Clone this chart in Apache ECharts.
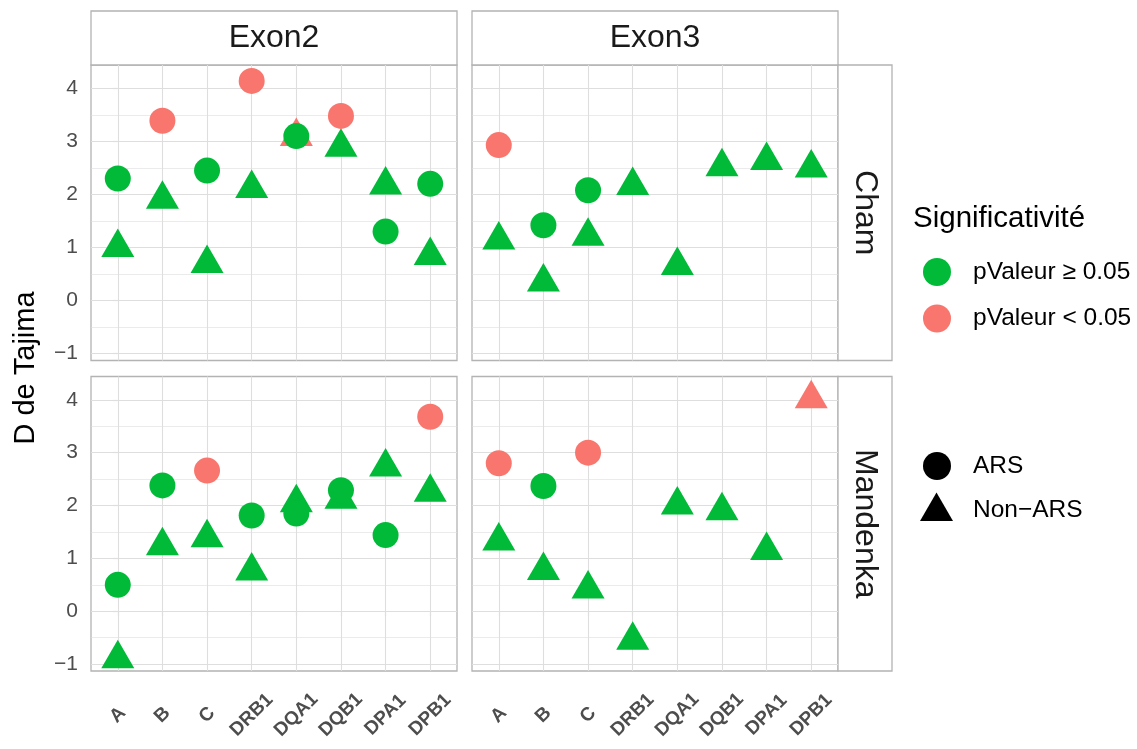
<!DOCTYPE html>
<html>
<head>
<meta charset="utf-8">
<script src="https://cdn.jsdelivr.net/npm/echarts@6/dist/echarts.min.js"></script>
<style>
  html, body { margin: 0; padding: 0; background: #ffffff; }
  #chart { width: 1137px; height: 749px; }
</style>
</head>
<body>
<div id="chart"></div>
<script>
// Genes on the x axis, facet labels and y ticks
const genes = ['A', 'B', 'C', 'DRB1', 'DQA1', 'DQB1', 'DPA1', 'DPB1'];
const exons = ['Exon2', 'Exon3'];
const populations = ['Cham', 'Mandenka'];
const yTicks = [-1, 0, 1, 2, 3, 4];
const yMinorTicks = [-0.5, 0.5, 1.5, 2.5, 3.5];

// Tajima's D per gene (null = no value); *Sig = 1 when pValeur < 0.05
const chamExon2Ars        = [2.30, 3.39, 2.45, 4.14, 3.10, 3.48, 1.30, 2.20];
const chamExon2ArsSig     = [0, 1, 0, 1, 0, 1, 0, 0];
const chamExon2NonArs     = [1.00, 1.91, 0.70, 2.11, 3.09, 2.89, 2.18, 0.85];
const chamExon2NonArsSig  = [0, 0, 0, 0, 1, 0, 0, 0];

const chamExon3Ars        = [2.93, 1.42, 2.08, null, null, null, null, null];
const chamExon3ArsSig     = [1, 0, 0, 0, 0, 0, 0, 0];
const chamExon3NonArs     = [1.14, 0.35, 1.21, 2.17, 0.66, 2.52, 2.64, 2.50];
const chamExon3NonArsSig  = [0, 0, 0, 0, 0, 0, 0, 0];

const mandExon2Ars        = [0.50, 2.38, 2.66, 1.81, 1.85, 2.29, 1.44, 3.68];
const mandExon2ArsSig     = [0, 0, 1, 0, 0, 0, 0, 1];
const mandExon2NonArs     = [-0.90, 1.24, 1.39, 0.76, 2.05, 2.12, 2.73, 2.25];
const mandExon2NonArsSig  = [0, 0, 0, 0, 0, 0, 0, 0];

const mandExon3Ars        = [2.80, 2.37, 3.00, null, null, null, null, null];
const mandExon3ArsSig     = [1, 0, 1, 0, 0, 0, 0, 0];
const mandExon3NonArs     = [1.33, 0.77, 0.42, -0.55, 2.01, 1.90, 1.15, 4.02];
const mandExon3NonArsSig  = [0, 0, 0, 0, 0, 0, 0, 1];

// Facet panels in reading order: row = population, column = exon
const panels = [
  { row: 0, col: 0, ars: chamExon2Ars, arsSig: chamExon2ArsSig, non: chamExon2NonArs, nonSig: chamExon2NonArsSig },
  { row: 0, col: 1, ars: chamExon3Ars, arsSig: chamExon3ArsSig, non: chamExon3NonArs, nonSig: chamExon3NonArsSig },
  { row: 1, col: 0, ars: mandExon2Ars, arsSig: mandExon2ArsSig, non: mandExon2NonArs, nonSig: mandExon2NonArsSig },
  { row: 1, col: 1, ars: mandExon3Ars, arsSig: mandExon3ArsSig, non: mandExon3NonArs, nonSig: mandExon3NonArsSig }
];

const GREEN = '#00BA38';
const RED = '#F8766D';
const BORDER = '#B3B3B3';
const GRIDLINE = '#DEDEDE';
const AXIS_TEXT = '#4D4D4D';
const FONT = '"Liberation Sans", Arial, Helvetica, sans-serif';

const Y_MIN = -1.13, Y_MAX = 4.44;
const X_MIN = -0.6, X_MAX = 7.6;

const colLeft = [91, 472];
const rowTop = [65, 376.5];
const panelW = 366;
const rowH = [295.5, 294.5];

const CIRCLE = 26;
const TRI_W = 33, TRI_H = 28.5;

const geneIdx = genes.map((g, i) => i);

const grids = [], xAxes = [], yAxes = [], series = [];

panels.forEach((p, k) => {
  grids.push({
    left: colLeft[p.col], top: rowTop[p.row], width: panelW, height: rowH[p.row],
    show: true, borderColor: BORDER, borderWidth: 1.3, backgroundColor: '#ffffff',
    containLabel: false
  });
  xAxes.push({
    type: 'value', gridIndex: k, min: X_MIN, max: X_MAX,
    axisLine: { show: false },
    splitLine: { show: false },
    axisTick: { show: p.row === 1, customValues: geneIdx, length: 5, lineStyle: { color: BORDER, width: 1.1 } },
    axisLabel: {
      show: p.row === 1, customValues: geneIdx, rotate: 45, margin: 44,
      align: 'center', verticalAlign: 'middle',
      formatter: v => genes[Math.round(v)],
      color: AXIS_TEXT, fontFamily: FONT, fontSize: 19, fontWeight: 'bold'
    }
  });
  yAxes.push({
    type: 'value', gridIndex: k, min: Y_MIN, max: Y_MAX,
    axisLine: { show: false },
    splitLine: { show: false },
    axisTick: { show: p.col === 0, customValues: yTicks, length: 5, lineStyle: { color: BORDER, width: 1.1 } },
    axisLabel: {
      show: p.col === 0, customValues: yTicks, margin: 13,
      formatter: v => String(v).replace('-', '\u2212'),
      color: AXIS_TEXT, fontFamily: FONT, fontSize: 21
    }
  });

  // panel grid lines (minor first, then major), kept under the points
  const lines = [];
  yMinorTicks.forEach(v => lines.push({ yAxis: v, lineStyle: { color: GRIDLINE, width: 0.6, type: 'solid' } }));
  yTicks.forEach(v => lines.push({ yAxis: v, lineStyle: { color: GRIDLINE, width: 1.1, type: 'solid' } }));
  geneIdx.forEach(v => lines.push({ xAxis: v, lineStyle: { color: GRIDLINE, width: 1.1, type: 'solid' } }));
  series.push({
    type: 'scatter', xAxisIndex: k, yAxisIndex: k, data: [], silent: true, z: 1,
    markLine: { silent: true, z: 1, symbol: ['none', 'none'], label: { show: false }, animation: false, data: lines }
  });

  // Non-ARS (triangles) drawn below ARS (circles)
  const triData = [];
  p.non.forEach((v, i) => {
    if (v === null) return;
    triData.push({ value: [i, v], itemStyle: { color: p.nonSig[i] ? RED : GREEN, opacity: 1 } });
  });
  series.push({
    type: 'scatter', xAxisIndex: k, yAxisIndex: k, z: 6,
    symbol: 'triangle', symbolSize: [TRI_W, TRI_H], symbolOffset: [0, -TRI_H / 6],
    itemStyle: { opacity: 1 },
    data: triData, animation: false
  });
  const cirData = [];
  p.ars.forEach((v, i) => {
    if (v === null) return;
    cirData.push({ value: [i, v], itemStyle: { color: p.arsSig[i] ? RED : GREEN, opacity: 1 } });
  });
  series.push({
    type: 'scatter', xAxisIndex: k, yAxisIndex: k, z: 7,
    symbol: 'circle', symbolSize: CIRCLE,
    itemStyle: { opacity: 1 },
    data: cirData, animation: false
  });
});

// facet strips, axis title and legends
const graphics = [];
const stripTop = 11, stripRight = 892;
const centered = { align: 'center', verticalAlign: 'middle', textAlign: 'center', textVerticalAlign: 'middle' };
const leftMid = { align: 'left', verticalAlign: 'middle', textAlign: 'left', textVerticalAlign: 'middle' };
exons.forEach((ex, c) => {
  graphics.push({ type: 'rect', shape: { x: colLeft[c], y: stripTop, width: panelW, height: rowTop[0] - stripTop },
    style: { fill: '#ffffff', stroke: BORDER, lineWidth: 1.3 } });
  graphics.push({ type: 'text', x: colLeft[c] + panelW / 2, y: (stripTop + rowTop[0]) / 2,
    style: Object.assign({ text: ex, font: '32px ' + FONT, fill: '#1a1a1a' }, centered) });
});
populations.forEach((pop, r) => {
  const x0 = colLeft[1] + panelW;
  graphics.push({ type: 'rect', shape: { x: x0, y: rowTop[r], width: stripRight - x0, height: rowH[r] },
    style: { fill: '#ffffff', stroke: BORDER, lineWidth: 1.3 } });
  graphics.push({ type: 'text', x: (x0 + stripRight) / 2, y: rowTop[r] + rowH[r] / 2, rotation: -Math.PI / 2,
    style: Object.assign({ text: pop, font: '32px ' + FONT, fill: '#1a1a1a' }, centered) });
});
graphics.push({ type: 'text', x: 26, y: (rowTop[0] + rowTop[1] + rowH[1]) / 2, rotation: Math.PI / 2,
  style: Object.assign({ text: 'D de Tajima', font: '29px ' + FONT, fill: '#000000' }, centered) });

// colour legend
graphics.push({ type: 'text', x: 913, y: 219,
  style: Object.assign({ text: 'Significativité', font: '29.5px ' + FONT, fill: '#000000' }, leftMid) });
[['pValeur \u2265 0.05', GREEN, 272], ['pValeur < 0.05', RED, 318.5]].forEach(([label, col, cy]) => {
  graphics.push({ type: 'circle', shape: { cx: 937, cy: cy, r: 14 }, style: { fill: col } });
  graphics.push({ type: 'text', x: 973, y: cy,
    style: Object.assign({ text: label, font: '24.5px ' + FONT, fill: '#000000' }, leftMid) });
});
// shape legend
graphics.push({ type: 'circle', shape: { cx: 937, cy: 466, r: 14 }, style: { fill: '#000000' } });
graphics.push({ type: 'text', x: 973, y: 466,
  style: Object.assign({ text: 'ARS', font: '24.5px ' + FONT, fill: '#000000' }, leftMid) });
graphics.push({ type: 'polygon', shape: { points: [[936.5, 492.5], [953, 521], [920, 521]] }, style: { fill: '#000000' } });
graphics.push({ type: 'text', x: 973, y: 510,
  style: Object.assign({ text: 'Non\u2212ARS', font: '24.5px ' + FONT, fill: '#000000' }, leftMid) });

const chart = echarts.init(document.getElementById('chart'), null, { renderer: 'canvas' });
chart.setOption({
  backgroundColor: '#ffffff',
  animation: false,
  grid: grids,
  xAxis: xAxes,
  yAxis: yAxes,
  series: series,
  graphic: { elements: graphics }
});
</script>
</body>
</html>
